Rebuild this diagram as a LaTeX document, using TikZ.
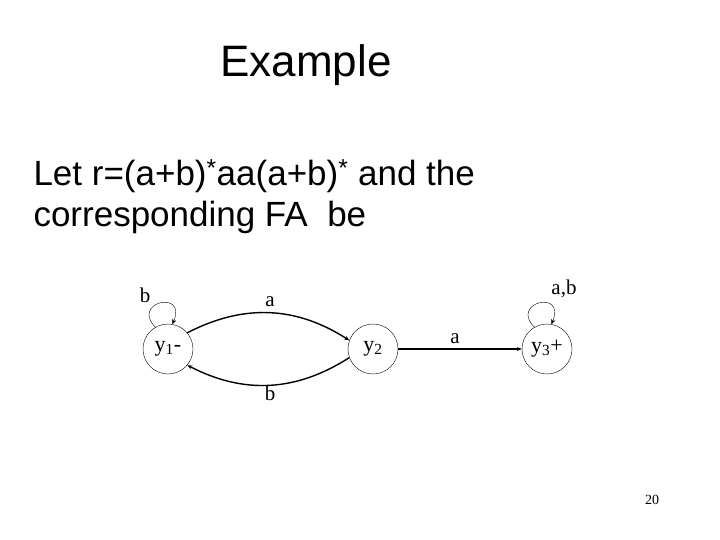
\documentclass[tikz,border=0pt]{standalone}
\usepackage{fontspec}
\setmainfont{Liberation Serif}
\newfontfamily\arial{Liberation Sans}
\usetikzlibrary{arrows.meta}
\begin{document}
\begin{tikzpicture}[x=1pt,y=-1pt,
  st/.style={draw,circle,minimum size=50pt,inner sep=0pt,font=\fontsize{22}{26}\selectfont},
  lab/.style={font=\fontsize{21}{24}\selectfont,inner sep=1pt},
  edge/.style={line width=1.4pt,-{Stealth[length=5pt,width=4pt]}},
  loopy/.style={thin,-{Stealth[length=5pt,width=4pt]}}]
\useasboundingbox[fill=white] (0,0) rectangle (720,540);
\node[font=\arial\fontsize{44}{52}\selectfont] (title) at (306,65) {Example};
\node[font=\arial\fontsize{35}{41}\selectfont,anchor=west,align=left] (txt) at (30,197)
  {Let r=(a+b)\textsuperscript{*}aa(a+b)\textsuperscript{*} and the\\corresponding FA\ \ be};
\node[st] (y1) at (168,349) {y\textsubscript{1}-};
\node[st] (y2) at (373,349) {y\textsubscript{2}};
\node[st] (y3) at (547,349) {y\textsubscript{3}+};
\draw[edge] (y1.40) to[bend left=30] (y2.160);
\draw[edge] (y2.200) to[bend left=30] (y1.320);
\draw[edge] (y2) -- (y3);
\draw[loopy] (y1.120) .. controls +(-25,-25) and +(15,-35) .. (y1.80);
\draw[loopy] (y3.120) .. controls +(-25,-25) and +(15,-35) .. (y3.80);
\node[lab] (l1) at (145,295) {b};
\node[lab] (l2) at (270,302) {a};
\node[lab] (l3) at (270,393) {b};
\node[lab] (l4) at (455,339) {a};
\node[lab] (l5) at (564,289) {a,b};
\node[font=\fontsize{14}{16}\selectfont] (pg) at (652,500) {20};
\end{tikzpicture}
\end{document}
